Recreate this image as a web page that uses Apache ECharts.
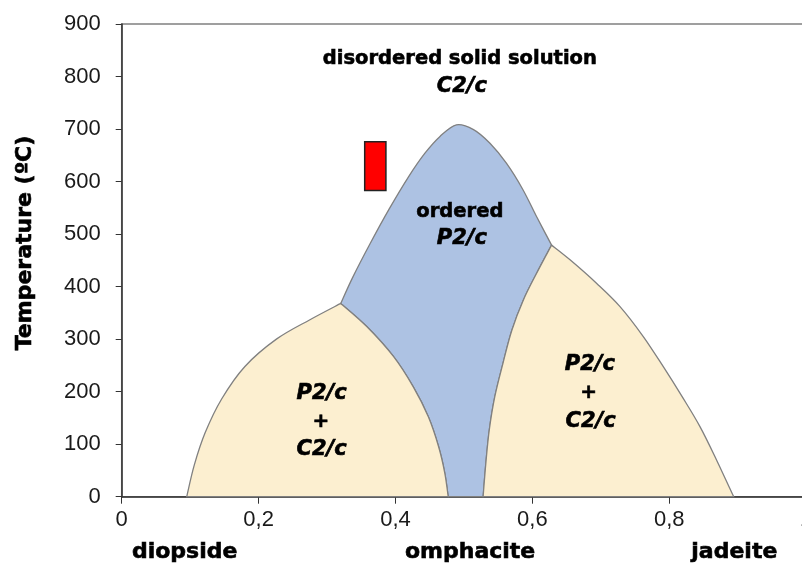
<!DOCTYPE html>
<html>
<head>
<meta charset="utf-8">
<script src="https://cdn.jsdelivr.net/npm/echarts@6/dist/echarts.min.js"></script>
<style>html,body{margin:0;padding:0;background:#fff}#c{width:802px;height:565px}</style>
</head>
<body>
<div id="c"></div>
<script>
// ---- data (composition x, temperature °C) ----
const xTickValues = [0, 0.2, 0.4, 0.6, 0.8, 1];
const yTickValues = [0, 100, 200, 300, 400, 500, 600, 700, 800, 900];
const endMembers = ['diopside', 'omphacite', 'jadeite'];
const endMemberX = [0.092, 0.509, 0.895];

// phase boundaries
const leftOuter = [[0.095,0],[0.106,60],[0.122,122],[0.146,186],[0.180,248],[0.226,300],[0.275,337],[0.320,368]];
const leftInner = [[0.320,368],[0.358,324],[0.397,267],[0.426,209],[0.448,152],[0.463,95],[0.472,45],[0.477,0]];
const orderedTop = [[0.320,368],[0.338,419],[0.363,482],[0.390,546],[0.419,609],[0.443,654],[0.465,686],[0.489,708],[0.514,699],[0.538,673],[0.562,635],[0.586,585],[0.607,531],[0.628,479]];
const rightInner = [[0.628,479],[0.606,425],[0.587,375],[0.570,317],[0.557,254],[0.545,190],[0.537,127],[0.532,64],[0.528,0]];
const rightOuter = [[0.628,479],[0.655,451],[0.694,406],[0.728,362],[0.762,305],[0.791,248],[0.819,190],[0.845,133],[0.869,70],[0.894,0]];
// red box [xMin, xMax, tMin, tMax]
const redBox = [0.355, 0.386, 583, 676];

// field labels
const labelText = ['disordered solid solution','C2/c','ordered','P2/c','P2/c','+','C2/c','P2/c','+','C2/c'];
const labelX    = [0.494, 0.497, 0.494, 0.497, 0.292, 0.291, 0.292, 0.684, 0.682, 0.685];
const labelT    = [833, 781, 543, 492, 197, 143, 89, 251, 198, 143];

// ---- drawing ----
const chart = echarts.init(document.getElementById('c'), null, {renderer: 'canvas'});
const BOLD = '"DejaVu Sans", sans-serif';

function segPath(pts, first) {
  let d = '';
  const n = pts.length;
  d += (first ? 'M' : 'L') + pts[0][0] + ' ' + pts[0][1];
  for (let i = 0; i < n - 1; i++) {
    const p0 = pts[Math.max(i - 1, 0)], p1 = pts[i], p2 = pts[i + 1], p3 = pts[Math.min(i + 2, n - 1)];
    const c1 = [p1[0] + (p2[0] - p0[0]) / 6, p1[1] + (p2[1] - p0[1]) / 6];
    const c2 = [p2[0] - (p3[0] - p1[0]) / 6, p2[1] - (p3[1] - p1[1]) / 6];
    d += 'C' + c1[0] + ' ' + c1[1] + ' ' + c2[0] + ' ' + c2[1] + ' ' + p2[0] + ' ' + p2[1];
  }
  return d;
}
function regionPath(api, segs) {
  let d = '';
  segs.forEach((s, i) => { d += segPath(s.map(p => api.coord(p)), i === 0); });
  return d + 'Z';
}
const rev = a => a.slice().reverse();

const labelData = labelText.map((t, i) => {
  const it = t.indexOf('/') >= 0;
  return {
    value: [labelX[i], labelT[i]],
    label: {
      formatter: t, color: '#000',
      fontStyle: it ? 'italic' : 'normal',
      fontSize: it ? 21 : (t === '+' ? 20 : 19.5)
    }
  };
});

const nameMap = {};
endMemberX.forEach((v, i) => { nameMap[v] = endMembers[i]; });

chart.setOption({
  animation: false,
  grid: {left: 121.7, width: 684.5, top: 24, bottom: 68.3, outerBoundsMode: 'none', containLabel: false,
    show: true, borderColor: '#808080', borderWidth: 1.5, backgroundColor: 'transparent'},
  xAxis: [{
    type: 'value', min: 0, max: 1, interval: 0.2,
    axisLine: {lineStyle: {color: '#333', width: 1.5}},
    axisTick: {show: true, length: 7, lineStyle: {color: '#333'}},
    splitLine: {show: false},
    axisLabel: {color: '#1a1a1a', fontFamily: '"Liberation Sans", Arial, sans-serif', fontSize: 22, margin: 12,
      formatter: v => xTickValues.indexOf(v) >= 0 ? String(v).replace('.', ',') : ''}
  }, {
    type: 'value', min: 0, max: 1, position: 'bottom',
    axisLine: {show: false}, axisTick: {show: false}, splitLine: {show: false},
    axisLabel: {customValues: endMemberX, formatter: v => nameMap[v] || '', color: '#000',
      fontFamily: BOLD, fontWeight: 'bold', fontSize: 22, margin: 45,
      textBorderColor: '#000', textBorderWidth: 0.6}
  }],
  yAxis: {
    type: 'value', min: 0, max: 900, interval: 100,
    axisLine: {show: true, lineStyle: {color: '#333', width: 1.5}},
    axisTick: {show: true, length: 6, lineStyle: {color: '#333'}},
    splitLine: {show: false},
    axisLabel: {color: '#1a1a1a', fontFamily: '"Liberation Sans", Arial, sans-serif', fontSize: 22, margin: 21,
      formatter: v => yTickValues.indexOf(v) >= 0 ? String(v) : ''}
  },
  graphic: [{
    type: 'text', x: 25, y: 243, rotation: Math.PI / 2,
    style: {text: 'Temperature (ºC)', font: 'bold 22px "DejaVu Sans", sans-serif', fill: '#000',
      stroke: '#000', lineWidth: 0.6, align: 'center', verticalAlign: 'middle'}
  }],
  series: [{
    type: 'custom',
    coordinateSystem: 'cartesian2d',
    data: [[0.5, 450]],
    silent: true,
    z: 2,
    renderItem: function (params, api) {
      const stroke = '#808080';
      const b0 = api.coord([redBox[0], redBox[3]]);
      const b1 = api.coord([redBox[1], redBox[2]]);
      return {
        type: 'group',
        children: [
          {type: 'path', shape: {pathData: regionPath(api, [orderedTop, rightInner, [[0.477,0]], rev(leftInner)])},
            style: {fill: '#adc2e3', stroke: stroke, lineWidth: 1.3}},
          {type: 'path', shape: {pathData: regionPath(api, [leftOuter, leftInner])},
            style: {fill: '#fcefd0', stroke: stroke, lineWidth: 1.3}},
          {type: 'path', shape: {pathData: regionPath(api, [rev(rightInner), rightOuter])},
            style: {fill: '#fcefd0', stroke: stroke, lineWidth: 1.3}},
          {type: 'rect', shape: {x: b0[0], y: b0[1], width: b1[0] - b0[0], height: b1[1] - b0[1]},
            style: {fill: '#ff0000', stroke: '#222', lineWidth: 1.5}}
        ]
      };
    }
  }, {
    type: 'scatter',
    symbolSize: 0,
    silent: true,
    z: 5,
    itemStyle: {opacity: 1},
    data: labelData,
    label: {show: true, position: 'inside', color: '#000', opacity: 1, fontFamily: BOLD, fontWeight: 'bold',
      textBorderColor: '#000', textBorderWidth: 0.6}
  }]
});
</script>
</body>
</html>
